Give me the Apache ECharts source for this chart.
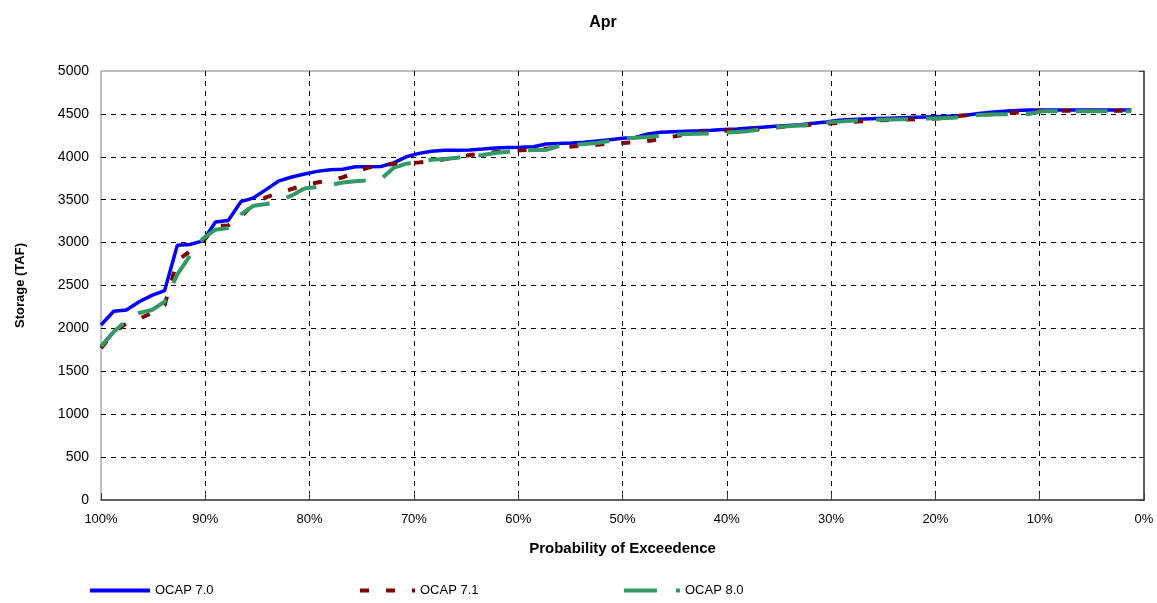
<!DOCTYPE html>
<html>
<head>
<meta charset="utf-8">
<script src="https://cdn.jsdelivr.net/npm/echarts@6/dist/echarts.min.js"></script>
<style>
html,body{margin:0;padding:0;background:#fff;}
#c{width:1157px;height:603px;}
</style>
</head>
<body>
<div id="c"></div>
<script>
const chartTitle = 'Apr';
const xAxisTitle = 'Probability of Exceedence';
const yAxisTitle = 'Storage (TAF)';
const seriesNames = ['OCAP 7.0', 'OCAP 7.1', 'OCAP 8.0'];

// Sorted storage (TAF), highest probability of exceedence first
const ocap70 = [2040,2200,2214,2310,2385,2440,2970,2978,3020,3240,3258,3477,3522,3620,3720,3765,3800,3830,3850,3855,
  3883,3885,3887,3930,4000,4040,4065,4075,4077,4080,4090,4102,4108,4112,4118,4150,4155,4160,4170,4185,
  4200,4215,4225,4265,4285,4292,4298,4303,4310,4318,4325,4335,4345,4355,4365,4375,4390,4405,4425,4435,
  4440,4445,4450,4455,4460,4465,4470,4475,4485,4505,4520,4530,4540,4545,4545,4545,4545,4545,4545,4545,4545,4545];
const ocap71 = [1770,1950,2060,2110,2180,2270,2790,2900,3010,3195,3200,3300,3450,3530,3575,3625,3670,3700,3730,3760,
  3820,3875,3900,3915,3925,3935,3950,3970,3990,4020,4040,4055,4065,4075,4085,4095,4110,4120,4130,4140,
  4155,4160,4170,4185,4205,4235,4265,4280,4295,4305,4310,4315,4325,4340,4355,4362,4375,4385,4395,4405,
  4415,4425,4430,4435,4438,4440,4450,4470,4485,4490,4495,4505,4515,4530,4537,4537,4537,4537,4537,4537,4537,4537];
const ocap80 = [1790,1960,2090,2180,2215,2310,2630,2850,3045,3150,3170,3330,3430,3450,3480,3550,3630,3650,3670,3700,
  3715,3725,3740,3870,3920,3940,3965,3975,3990,4005,4020,4045,4060,4075,4078,4080,4125,4140,4150,4162,
  4185,4212,4222,4232,4245,4258,4265,4270,4273,4280,4290,4302,4320,4345,4355,4365,4385,4400,4410,4420,
  4428,4432,4435,4438,4440,4445,4450,4455,4470,4488,4493,4495,4497,4500,4530,4530,4530,4530,4530,4530,4530,4530];

const xTicks = [0,10,20,30,40,50,60,70,80,90,100];
const yTicks = [0,500,1000,1500,2000,2500,3000,3500,4000,4500,5000];

// exceedence probability by rank (plotting position)
function toPairs(vals){
  const n = vals.length;
  return vals.map((v,i)=>[100*(1 - i/n), v]);
}

const FONT = 'Liberation Sans, Arial, sans-serif';
const chart = echarts.init(document.getElementById('c'), null, {renderer:'canvas'});
const colors = ['#0000FF', '#800000', '#339966'];

const legendIcons = [
  {icon:'path://M0,0h60v4h-60z', w:60, left:85},
  {icon:'path://M0,0h9v4h-9z M26,0h9v4h-9z M52,0h3v4h-3z', w:55, left:355},
  {icon:'path://M0,0h33v4h-33z M52,0h4v4h-4z', w:56, left:619}
];

function legendAt(k){
  const L = legendIcons[k];
  return {
    show:true, left:L.left, top:579, itemWidth:L.w, itemHeight:4, itemGap:0,
    data:[{name:seriesNames[k], icon:L.icon, itemStyle:{color:colors[k]}}],
    textStyle:{fontFamily:FONT, fontSize:13, color:'#000'}
  };
}

chart.setOption({
  animation:false,
  backgroundColor:'#fff',
  title:{
    text:chartTitle, left:598, top:10, textAlign:'center',
    textStyle:{fontFamily:FONT, fontSize:16, fontWeight:'bold', color:'#000'}
  },
  legend:[legendAt(0), legendAt(1), legendAt(2)],
  grid:{left:101, right:13, top:71, bottom:103, show:true, borderColor:'#808080', borderWidth:1, backgroundColor:'transparent'},
  xAxis:{
    type:'value', min:xTicks[0], max:xTicks[xTicks.length-1], interval:10, inverse:true,
    name:xAxisTitle, nameLocation:'middle', nameGap:41,
    nameTextStyle:{fontFamily:FONT, fontSize:15, fontWeight:'bold', color:'#000'},
    axisLine:{lineStyle:{color:'#404040', width:1.5}},
    axisTick:{inside:true, length:7, lineStyle:{color:'#404040'}},
    axisLabel:{fontFamily:FONT, fontSize:13, color:'#000', margin:13, formatter:'{value}%'},
    splitLine:{show:true, showMinLine:false, showMaxLine:false, lineStyle:{color:'#000', type:[5,5], width:1}}
  },
  yAxis:{
    type:'value', min:yTicks[0], max:yTicks[yTicks.length-1], interval:500,
    name:yAxisTitle, nameLocation:'middle', nameGap:74,
    nameTextStyle:{fontFamily:FONT, fontSize:13, fontWeight:'bold', color:'#000'},
    axisLine:{show:true, lineStyle:{color:'#404040', width:1.5}},
    axisTick:{show:true, length:5, lineStyle:{color:'#404040'}},
    axisLabel:{fontFamily:FONT, fontSize:14, color:'#000', margin:12, formatter:function(v){return String(v);}},
    splitLine:{show:true, showMinLine:false, showMaxLine:false, lineStyle:{color:'#000', type:[5,5], width:1}}
  },
  series:[
    {name:seriesNames[0], type:'line', data:toPairs(ocap70), symbol:'none', z:2,
     lineStyle:{color:colors[0], width:3.5}, itemStyle:{color:colors[0]}},
    {name:seriesNames[1], type:'line', data:toPairs(ocap71), symbol:'none', z:3,
     lineStyle:{color:colors[1], width:4, type:[9,17]}, itemStyle:{color:colors[1]}},
    {name:seriesNames[2], type:'line', data:toPairs(ocap80), symbol:'none', z:4,
     lineStyle:{color:colors[2], width:4, type:[32,18]}, itemStyle:{color:colors[2]}}
  ]
});
</script>
</body>
</html>
